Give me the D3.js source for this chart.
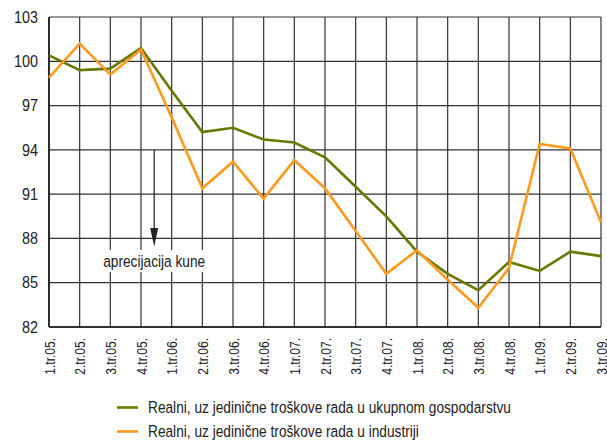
<!DOCTYPE html>
<html>
<head>
<meta charset="utf-8">
<script src="https://cdn.jsdelivr.net/npm/d3@7"></script>
<style>
  body { margin: 0; background: #fff; }
  svg text { font-family: "Liberation Sans", Arial, sans-serif; fill: #222; }
</style>
</head>
<body>
<svg id="chart"></svg>
<script>
const categories = ['1.tr.05.', '2.tr.05.', '3.tr.05.', '4.tr.05.', '1.tr.06.', '2.tr.06.', '3.tr.06.', '4.tr.06.',
  '1.tr.07.', '2.tr.07.', '3.tr.07.', '4.tr.07.', '1.tr.08.', '2.tr.08.', '3.tr.08.', '4.tr.08.',
  '1.tr.09.', '2.tr.09.', '3.tr.09.'];
const ukupno = [100.4, 99.4, 99.5, 100.9, 98.0, 95.2, 95.5, 94.7, 94.5, 93.5, 91.5, 89.5, 87.1, 85.6, 84.5, 86.4, 85.8, 87.1, 86.8];
const industrija = [98.9, 101.2, 99.1, 100.8, 96.2, 91.4, 93.2, 90.7, 93.3, 91.4, 88.5, 85.6, 87.2, 85.2, 83.3, 86.0, 94.4, 94.1, 89.1];
const yTicks = [82, 85, 88, 91, 94, 97, 100, 103];
const seriesNames = ['Realni, uz jedinične troškove rada u ukupnom gospodarstvu', 'Realni, uz jedinične troškove rada u industriji'];
const colors = ['#687800', '#ff9a1f'];

const width = 607, height = 441;
const margin = { top: 17, right: 6, bottom: 114, left: 49 };
const narrow = 0.83; // condensed look

const svg = d3.select('#chart').attr('width', width).attr('height', height);

const x = d3.scalePoint()
  .domain(categories)
  .range([margin.left, width - margin.right]);

const y = d3.scaleLinear()
  .domain([82, 103])
  .range([height - margin.bottom, margin.top]);

// grid
const grid = svg.append('g').attr('stroke', '#333').attr('stroke-width', 1.2);
grid.selectAll('line.h').data(yTicks).join('line')
  .attr('x1', margin.left).attr('x2', width - margin.right)
  .attr('y1', d => y(d)).attr('y2', d => y(d));
grid.selectAll('line.v').data(categories).join('line')
  .attr('x1', d => x(d)).attr('x2', d => x(d))
  .attr('y1', margin.top).attr('y2', height - margin.bottom);

// annotation
const annX = x(categories[3]) + 0.43 * x.step();
svg.append('rect')
  .attr('x', annX - 54).attr('y', 250).attr('width', 108).attr('height', 22)
  .attr('fill', '#fff');
svg.append('text')
  .attr('transform', `translate(${annX},266.5) scale(${narrow},1)`)
  .attr('text-anchor', 'middle').attr('font-size', 16.5)
  .text('aprecijacija kune');
svg.append('line')
  .attr('x1', annX).attr('x2', annX)
  .attr('y1', y(94)).attr('y2', y(88.5))
  .attr('stroke', '#222').attr('stroke-width', 1.2);
svg.append('path')
  .attr('d', `M${annX - 4},${y(88.7)} L${annX + 4},${y(88.7)} L${annX},${y(87.45)} Z`)
  .attr('fill', '#222');

// axes
svg.append('line')
  .attr('x1', margin.left).attr('x2', margin.left)
  .attr('y1', margin.top).attr('y2', height - margin.bottom)
  .attr('stroke', '#111').attr('stroke-width', 1.5);
svg.append('line')
  .attr('x1', margin.left).attr('x2', width - margin.right)
  .attr('y1', height - margin.bottom).attr('y2', height - margin.bottom)
  .attr('stroke', '#111').attr('stroke-width', 1.5);

svg.append('g').selectAll('text').data(yTicks).join('text')
  .attr('transform', d => `translate(38,${y(d)}) scale(0.9,1)`)
  .attr('dy', '0.36em').attr('text-anchor', 'end').attr('font-size', 16)
  .text(d => d);

svg.append('g').selectAll('text').data(categories).join('text')
  .attr('transform', d => `translate(${x(d) + 5.5},${height - margin.bottom + 11}) rotate(-90) scale(0.8,1)`)
  .attr('text-anchor', 'end').attr('font-size', 15)
  .text(d => d);

// lines
const line = d3.line()
  .x((d, i) => x(categories[i]))
  .y(d => y(d));

[ukupno, industrija].forEach((s, i) => {
  svg.append('path')
    .datum(s)
    .attr('fill', 'none')
    .attr('stroke', colors[i])
    .attr('stroke-width', 2.6)
    .attr('stroke-linejoin', 'miter')
    .attr('d', line);
});

// legend
const legend = svg.append('g').selectAll('g').data(seriesNames).join('g')
  .attr('transform', (d, i) => `translate(117,${407.5 + i * 24})`);
legend.append('line')
  .attr('x1', 0).attr('x2', 21)
  .attr('stroke', (d, i) => colors[i]).attr('stroke-width', 2.6);
legend.append('text')
  .attr('transform', `translate(31,0) scale(${narrow},1)`)
  .attr('dy', '0.36em').attr('font-size', 16.5)
  .text(d => d);
</script>
</body>
</html>
